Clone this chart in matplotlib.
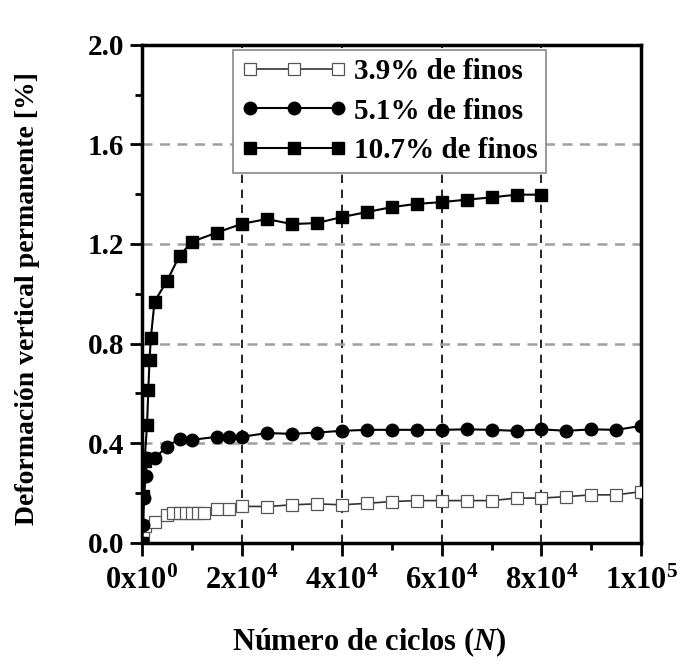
import matplotlib
matplotlib.use("Agg")
import matplotlib.pyplot as plt
from matplotlib.ticker import MultipleLocator, FixedLocator

plt.rcParams['font.family'] = ['Liberation Serif', 'DejaVu Serif']
plt.rcParams['font.weight'] = 'bold'
plt.rcParams['mathtext.fontset'] = 'custom'
plt.rcParams['mathtext.rm'] = 'Liberation Serif:bold'
plt.rcParams['mathtext.it'] = 'Liberation Serif:bold:italic'
plt.rcParams['mathtext.bf'] = 'Liberation Serif:bold'

# Permanent vertical strain vs number of load cycles
n_39 = [0, 250, 500, 2500, 5000, 6250, 7500, 8750, 10000, 11250, 12500, 15000, 17500,
        20000, 25000, 30000, 35000, 40000, 45000, 50000, 55000, 60000, 65000, 70000,
        75000, 80000, 85000, 90000, 95000, 100000]
d_39 = [0.0, 0.03, 0.066, 0.086, 0.113, 0.12, 0.12, 0.12, 0.12, 0.12, 0.12, 0.135, 0.135,
        0.147, 0.146, 0.153, 0.157, 0.153, 0.159, 0.166, 0.17, 0.17, 0.17, 0.17,
        0.18, 0.18, 0.186, 0.193, 0.193, 0.206]

n_51 = [0, 200, 400, 700, 1000, 2500, 5000, 7500, 10000, 15000, 17500, 20000, 25000,
        30000, 35000, 40000, 45000, 50000, 55000, 60000, 65000, 70000, 75000, 80000,
        85000, 90000, 95000, 100000]
d_51 = [0.0, 0.07, 0.18, 0.27, 0.34, 0.34, 0.387, 0.418, 0.414, 0.426, 0.426, 0.426, 0.441,
        0.438, 0.443, 0.45, 0.454, 0.454, 0.454, 0.454, 0.456, 0.454, 0.45, 0.456,
        0.45, 0.456, 0.454, 0.47]

n_107 = [0, 250, 500, 1000, 1250, 1500, 1750, 2500, 5000, 7500, 10000, 15000, 20000,
         25000, 30000, 35000, 40000, 45000, 50000, 55000, 60000, 65000, 70000, 75000, 80000]
d_107 = [0.0, 0.19, 0.33, 0.474, 0.614, 0.735, 0.822, 0.969, 1.052, 1.153, 1.209, 1.246, 1.281,
         1.30, 1.28, 1.284, 1.308, 1.328, 1.348, 1.361, 1.368, 1.378, 1.387, 1.398, 1.398]

labels = ['3.9% de finos', '5.1% de finos', '10.7% de finos']
x_ticks = [0, 20000, 40000, 60000, 80000, 100000]
x_ticklabels = [r'$\mathrm{0x10^0}$', r'$\mathrm{2x10^4}$', r'$\mathrm{4x10^4}$',
                r'$\mathrm{6x10^4}$', r'$\mathrm{8x10^4}$', r'$\mathrm{1x10^5}$']
y_ticks = [0.0, 0.4, 0.8, 1.2, 1.6, 2.0]

fig = plt.figure(figsize=(6.83, 6.67), dpi=100)
ax = fig.add_axes([0.208, 0.186, 0.731, 0.747])

# grid: dashed black verticals, dashed grey horizontals
for xv in x_ticks[1:-1]:
    ax.axvline(xv, color='black', lw=1.2, ls=(0, (5, 4)), zorder=1)
for yv in y_ticks[1:-1]:
    ax.axhline(yv, color='#a0a0a0', lw=1.8, ls=(0, (4, 3)), zorder=1)

ax.plot(n_39, d_39, color='#333333', lw=1.2, marker='s', ms=8, mfc='white',
        mec='#555555', mew=0.9, label=labels[0], zorder=3)
ax.plot(n_51, d_51, color='black', lw=1.5, marker='o', ms=9, mfc='black',
        mec='black', label=labels[1], zorder=4)
ax.plot(n_107, d_107, color='black', lw=1.5, marker='s', ms=8, mfc='black',
        mec='black', label=labels[2], zorder=5)

ax.set_xlim(0, 100000)
ax.set_ylim(0, 2.0)
ax.xaxis.set_major_locator(FixedLocator(x_ticks))
ax.xaxis.set_minor_locator(MultipleLocator(10000))
ax.set_xticklabels(x_ticklabels)
ax.yaxis.set_major_locator(FixedLocator(y_ticks))
ax.yaxis.set_minor_locator(MultipleLocator(0.2))
ax.set_yticklabels([f'{v:.1f}' for v in y_ticks])

ax.tick_params(axis='x', which='major', direction='out', length=9, width=2,
               labelsize=22, pad=8)
ax.tick_params(axis='y', which='major', direction='out', length=9, width=2,
               labelsize=21, pad=4)
ax.tick_params(axis='both', which='minor', direction='out', length=5, width=2)
for sp in ax.spines.values():
    sp.set_linewidth(2.5)

ax.set_ylabel('Deformación vertical permanente [%]', fontsize=20, fontweight='bold')
ax.yaxis.set_label_coords(-0.205, 0.49)
ax.set_xlabel(r'Número de ciclos ($\mathit{N}$)', fontsize=22, fontweight='bold')
ax.xaxis.set_label_coords(0.455, -0.165)

leg = ax.legend(loc='upper left', bbox_to_anchor=(0.182, 0.99), numpoints=3,
                fontsize=21, frameon=True, fancybox=False, borderpad=0.3,
                handlelength=3.6, handletextpad=0.25, labelspacing=0.42,
                borderaxespad=0.0)
leg.get_frame().set_edgecolor('#888888')
leg.get_frame().set_linewidth(1.2)
leg.get_frame().set_alpha(1)
leg.set_zorder(10)

fig.savefig('out.png', dpi=100)
